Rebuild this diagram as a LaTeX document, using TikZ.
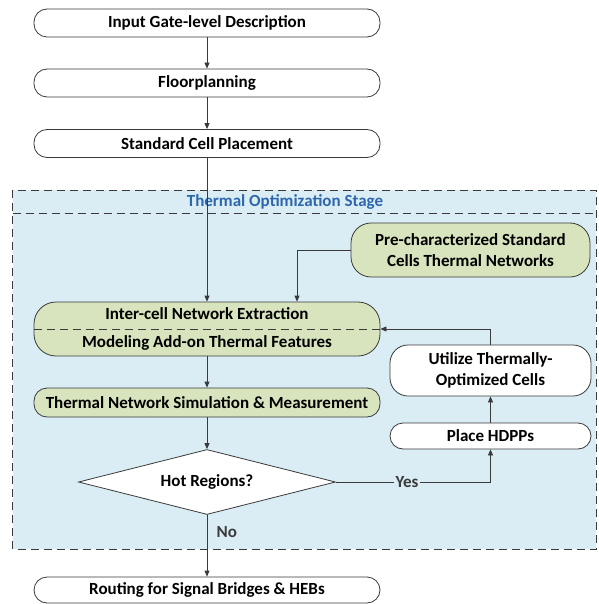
\documentclass[tikz,border=0pt]{standalone}
\usepackage{fontspec}
\setmainfont{Carlito}
\usepackage{tikz}
\usetikzlibrary{arrows.meta,shapes.geometric}
\definecolor{verde}{HTML}{D7E4BD}
\definecolor{celeste}{HTML}{DAEDF4}
\definecolor{blu}{HTML}{2E67AC}
\definecolor{grigio}{HTML}{3A3A3A}

\begin{document}
\begin{tikzpicture}[x=1pt, y=-1pt, line width=0.8pt,
        every node/.style={font=\bfseries\fontsize{17}{20.5}\selectfont},
        blocco/.style={draw=grigio, fill=white, rounded corners=13pt,
            minimum height=28pt, minimum width=346pt, align=center, inner sep=0pt},
        bloccov/.style={blocco, fill=verde},
        freccia/.style={-{Triangle[length=6pt,width=5pt]}, grigio}]
        \useasboundingbox (0,0) rectangle (598,604);

        % Area di ottimizzazione termica (tratteggiata)
        \draw[grigio, fill=celeste, dash pattern=on 8pt off 5pt]
        (12.5,190) rectangle (596,549);
        \draw[grigio, dash pattern=on 8pt off 5pt] (12.5,213) -- (596,213);
        \node[color=blu] (titolo) at (285,202) {Thermal Optimization Stage};

        % Blocchi della colonna principale
        \node[blocco] (ingresso) at (207,23) {Input Gate-level Description};
        \node[blocco] (floor) at (207,83) {Floorplanning};
        \node[blocco] (piazza) at (207,143.5) {Standard Cell Placement};
        \node[bloccov, minimum height=54pt, rounded corners=22pt] (estrai) at (207,329)
        {Inter-cell Network Extraction\\[7pt] Modeling Add-on Thermal Features};
        \node[bloccov, minimum height=29pt] (simula) at (207,402.5)
        {Thermal Network Simulation \& Measurement};
        \node[draw=grigio, fill=white, shape=diamond, aspect=4, inner sep=0pt,
            minimum width=257pt, minimum height=65pt] (caldo) at (207,482) {Hot Regions?};
        \node[blocco, minimum height=26pt] (routing) at (207,590)
        {Routing for Signal Bridges \& HEBs};

        % Blocchi della colonna destra
        \node[bloccov, minimum width=239pt, minimum height=54pt, rounded corners=20pt]
        (precar) at (470.5,250) {Pre-characterized Standard\\Cells Thermal Networks};
        \node[blocco, minimum width=201pt, minimum height=51pt, rounded corners=18pt]
        (utilizza) at (490.5,370.5) {Utilize Thermally-\\Optimized Cells};
        \node[blocco, minimum width=201pt, minimum height=26pt] (hdpp) at (490.5,436)
        {Place HDPPs};

        % Linea di separazione nel blocco verde
        \draw[grigio, dash pattern=on 8pt off 5pt] (estrai.west) -- (estrai.east);

        % Frecce
        \foreach \da/\a in {
                ingresso/floor,
                floor/piazza,
                piazza/estrai,
                estrai/simula,
                simula/caldo}{
                \draw[freccia] (\da.south) -- (\a.north);
            }
        \draw[freccia] (hdpp.north) -- (utilizza.south);
        \draw[freccia] (precar.west) -| ([xshift=90pt]estrai.north);
        \draw[freccia] (utilizza.north) |- (estrai.east);
        \draw[freccia] (caldo.east) -- node[pos=0.46, fill=celeste, inner sep=2pt] {Yes}
        (caldo.east -| hdpp.south) -- (hdpp.south);
        \draw[freccia] (caldo.south) -- node[pos=0.28, right, xshift=6pt] {No}
        (routing.north);
    \end{tikzpicture}
\end{document}
